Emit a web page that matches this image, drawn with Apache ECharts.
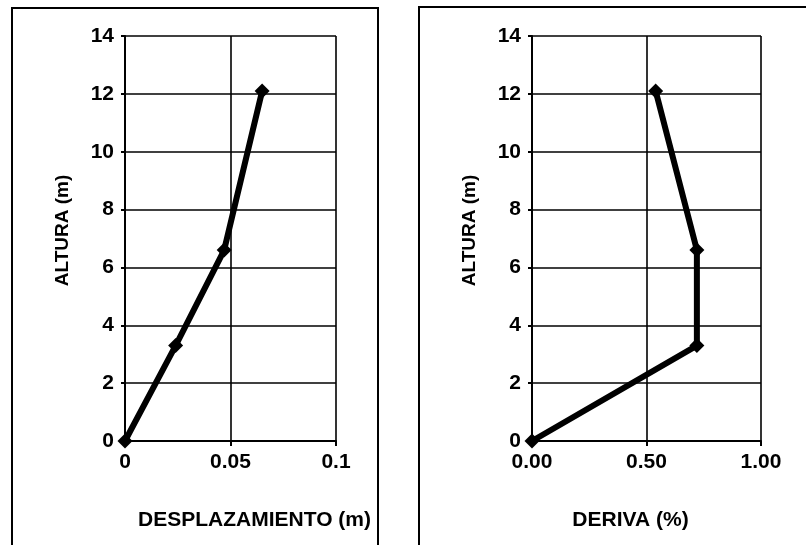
<!DOCTYPE html>
<html><head><meta charset="utf-8">
<script src="https://cdn.jsdelivr.net/npm/echarts@6/dist/echarts.min.js"></script>
<style>html,body{margin:0;padding:0;background:#fff}#c{width:806px;height:545px}</style>
</head><body><div id="c"></div>
<script>
const alturas = [0, 3.3, 6.6, 12.1];
const desplazamiento = [0, 0.024, 0.047, 0.065];
const deriva = [0, 0.72, 0.72, 0.54];
const yTicks = [0, 2, 4, 6, 8, 10, 12, 14];
const xTicksLeft = [0, 0.05, 0.1];
const xTicksRight = [0, 0.5, 1.0];

const FONT = '"Liberation Sans", Arial, sans-serif';
const chart = echarts.init(document.getElementById('c'), null, {renderer: 'canvas'});

function yAxis(gi) {
  return {
    type: 'value', gridIndex: gi, min: yTicks[0], max: yTicks[yTicks.length-1], interval: 2,
    name: 'ALTURA (m)', nameLocation: 'middle', nameRotate: 90, nameGap: 53,
    nameTextStyle: {fontFamily: FONT, fontWeight: 'bold', fontSize: 19, color: '#000', padding: [0, 0, 0, 16]},
    axisLine: {show: true, lineStyle: {color: '#000', width: 2}},
    axisTick: {show: true, length: 4, lineStyle: {color: '#000', width: 2}},
    axisLabel: {fontFamily: FONT, fontWeight: 'bold', fontSize: 21, color: '#000', margin: 11},
    splitLine: {show: true, lineStyle: {color: '#000', width: 1.6}}
  };
}
function xAxis(gi, ticks, name, fmt, pad) {
  return {
    type: 'value', gridIndex: gi, min: ticks[0], max: ticks[ticks.length-1], interval: ticks[1]-ticks[0],
    name: name, nameLocation: 'middle', nameGap: 69,
    nameTextStyle: {fontFamily: FONT, fontWeight: 'bold', fontSize: 21, color: '#000', padding: pad},
    axisLine: {show: true, onZero: false, lineStyle: {color: '#000', width: 2}},
    axisTick: {show: true, length: 5, lineStyle: {color: '#000', width: 2}},
    axisLabel: {fontFamily: FONT, fontWeight: 'bold', fontSize: 21, color: '#000', margin: 11, formatter: fmt},
    splitLine: {show: true, lineStyle: {color: '#000', width: 1.6}}
  };
}

const option = {
  animation: false,
  backgroundColor: '#fff',
  grid: [
    {left: 125, right: 806-336, top: 36, bottom: 545-441},
    {left: 532, right: 806-761, top: 36, bottom: 545-441}
  ],
  xAxis: [
    xAxis(0, xTicksLeft, 'DESPLAZAMIENTO (m)', v => String(+v.toFixed(2)), [0, 0, 0, 48]),
    xAxis(1, xTicksRight, 'DERIVA (%)', v => v.toFixed(2), [0, 32, 0, 0])
  ],
  yAxis: [yAxis(0), yAxis(1)],
  series: [
    {type: 'line', xAxisIndex: 0, yAxisIndex: 0, data: desplazamiento.map((x,i)=>[x, alturas[i]]),
     symbol: 'diamond', symbolSize: 15, lineStyle: {color: '#000', width: 6}, itemStyle: {color: '#000'}},
    {type: 'line', xAxisIndex: 1, yAxisIndex: 1, data: deriva.map((x,i)=>[x, alturas[i]]),
     symbol: 'diamond', symbolSize: 15, lineStyle: {color: '#000', width: 6}, itemStyle: {color: '#000'}}
  ],
  graphic: [
    {type: 'rect', shape: {x: 12, y: 8, width: 366, height: 560}, style: {fill: 'none', stroke: '#000', lineWidth: 2}, silent: true},
    {type: 'rect', shape: {x: 419, y: 7, width: 420, height: 560}, style: {fill: 'none', stroke: '#000', lineWidth: 2}, silent: true}
  ]
};
chart.setOption(option);
</script></body></html>
